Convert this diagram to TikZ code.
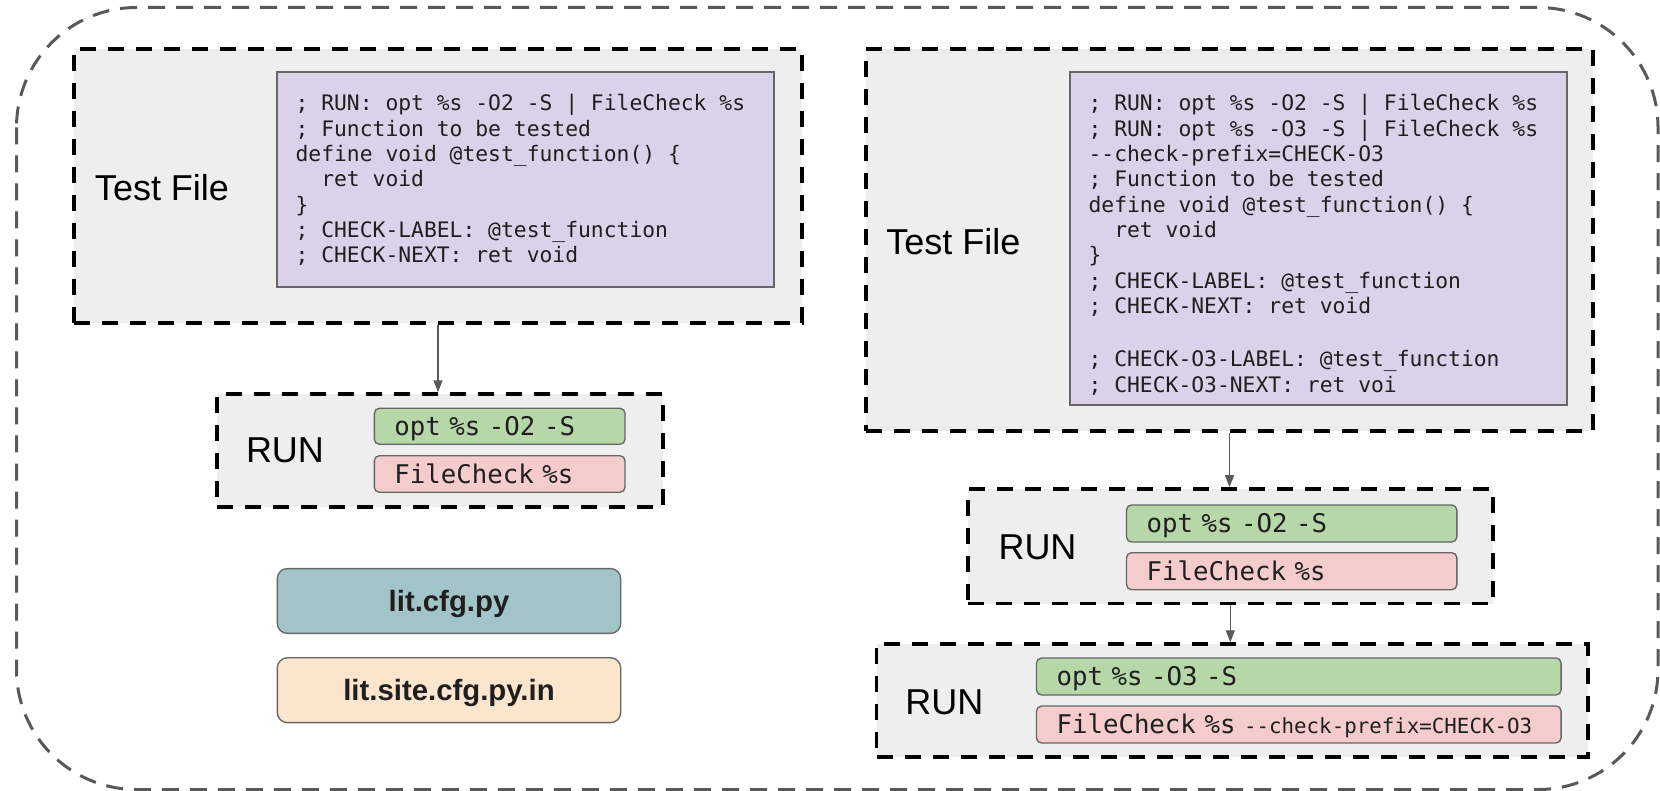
\documentclass[tikz,border=0pt]{standalone}
\usepackage{fontspec}
\setmainfont{Liberation Sans}
\setmonofont{DejaVu Sans Mono}
\usetikzlibrary{arrows.meta}

\definecolor{panel}{HTML}{EEEEEE}
\definecolor{lilac}{HTML}{D9D2E9}
\definecolor{mint}{HTML}{B6D7A8}
\definecolor{rose}{HTML}{F4CCCC}
\definecolor{teal}{HTML}{A2C4C9}
\definecolor{peach}{HTML}{FCE5CD}
\definecolor{edge}{HTML}{666666}
\definecolor{outerline}{HTML}{595959}
\definecolor{ink}{HTML}{1F1F1F}

\newcommand\mycodefont{\fontsize{16pt}{19pt}\selectfont\ttfamily}
\newcommand\mycmdfont{\fontsize{19.3pt}{24pt}\selectfont\ttfamily}
\newcommand\mysmallcmd{\fontsize{15.6pt}{19pt}\selectfont}

\begin{document}
\begin{tikzpicture}[
  x=0.75pt, y=-0.75pt,
  outerframe/.style={draw=outerline, line width=2.25pt,
    dash pattern=on 12.75pt off 8.25pt, rounded corners=90pt},
  frame/.style={draw=black, line width=2.6pt, dash pattern=on 12pt off 9pt,
    fill=panel, inner sep=0pt},
  codebox/.style={draw=edge, line width=1pt, fill=lilac, inner sep=0pt},
  codetext/.style={font=\mycodefont, align=left, anchor=north west,
    inner sep=0pt, text=ink},
  cmd/.style={draw=edge, line width=1pt, rounded corners=3.75pt,
    inner xsep=15pt, inner ysep=0pt, align=left, font=\mycmdfont, text=ink,
    text height=18.1pt, text depth=4pt},
  label/.style={font=\fontsize{27pt}{32pt}\selectfont, inner sep=0pt},
  cfg/.style={draw=edge, line width=1pt, rounded corners=7.5pt,
    font=\fontsize{22pt}{26pt}\selectfont\bfseries, text=ink,
    text height=20.5pt, text depth=4.7pt,
    minimum width=257.5pt, minimum height=48.6pt},
  link/.style={draw=outerline, line width=1pt,
    -{Triangle[length=9pt,width=6.75pt]}}
]
\useasboundingbox (0,0) rectangle (1660,791);

% surrounding group
\draw[outerframe] (16.5,7.5) rectangle (1658,789.5);

% ---------- left column ----------
\node[frame, minimum width=546pt, minimum height=205.5pt] (tfL) at (438,186) {};
\node[codebox, minimum width=372.75pt, minimum height=161.25pt] (codeL) at (525.5,179.5) {};
\node[codetext] (srcL) at ([shift={(19,21.5)}]codeL.north west) {\strut; RUN: opt \%s -O2 -S | FileCheck \%s\\
; Function to be tested\\
define void @test\textunderscore function() \{\\
~~ret void\\
\}\\
; CHECK-LABEL: @test\textunderscore function\\
; CHECK-NEXT: ret void};
\node[label] (tfLlabel) at (162,188) {Test File};

\node[frame, minimum width=334.5pt, minimum height=84.75pt] (runL) at (440,450.5) {};
\node[label] (runLlabel) at (285,450) {RUN};
\node[cmd, fill=mint, text width=158pt, minimum height=27pt] (optL) at (499.7,426.3) {opt \%s -O2 -S};
\node[cmd, fill=rose, text width=158pt, minimum height=27.4pt] (fcL) at (499.7,474) {FileCheck \%s};

\node[cfg, fill=teal] (litcfg) at (449,601) {lit.cfg.py};
\node[cfg, fill=peach] (litsite) at (449,690.2) {lit.site.cfg.py.in};

% ---------- right column ----------
\node[frame, minimum width=545.25pt, minimum height=286.5pt] (tfR) at (1229.5,240) {};
\node[codebox, minimum width=372.75pt, minimum height=249.75pt] (codeR) at (1318.5,238.5) {};
\node[codetext] (srcR) at ([shift={(19,21.5)}]codeR.north west) {\strut; RUN: opt \%s -O2 -S | FileCheck \%s\\
; RUN: opt \%s -O3 -S | FileCheck \%s\\
-{}-check-prefix=CHECK-O3\\
; Function to be tested\\
define void @test\textunderscore function() \{\\
~~ret void\\
\}\\
; CHECK-LABEL: @test\textunderscore function\\
; CHECK-NEXT: ret void\\[21pt]
; CHECK-O3-LABEL: @test\textunderscore function\\
; CHECK-O3-NEXT: ret voi};
\node[label] (tfRlabel) at (953.4,241.4) {Test File};

\node[frame, minimum width=393.8pt, minimum height=86pt] (runA) at (1230.3,546.3) {};
\node[label] (runAlabel) at (1037.5,547.4) {RUN};
\node[cmd, fill=mint, text width=217.7pt, minimum height=27.75pt] (optA) at (1291.7,523.5) {opt \%s -O2 -S};
\node[cmd, fill=rose, text width=217.7pt, minimum height=27.75pt] (fcA) at (1291.7,571.2) {FileCheck \%s};

\node[frame, minimum width=533.5pt, minimum height=84.75pt] (runB) at (1232.3,700.5) {};
\node[label] (runBlabel) at (944.4,702) {RUN};
\node[cmd, fill=mint, text width=363.4pt, minimum height=27.75pt] (optB) at (1298.8,676.5) {opt \%s -O3 -S};
\node[cmd, fill=rose, text width=363.4pt, minimum height=27.75pt] (fcB) at (1298.8,724.5) {FileCheck \%s {\mysmallcmd -{}-check-prefix=CHECK-O3}};

% ---------- connectors ----------
\draw[link] (tfL.south) -- (tfL.south |- runL.north);
\draw[link] (tfR.south) -- (tfR.south |- runA.north);
\draw[link] (runA.south) -- (runA.south |- runB.north);
\end{tikzpicture}
\end{document}
